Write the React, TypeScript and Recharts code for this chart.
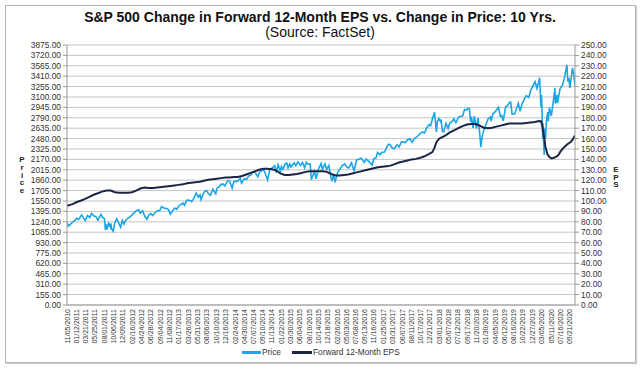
import React from 'react';
import { ComposedChart, Line, XAxis, YAxis, CartesianGrid } from 'recharts';

const xTickLabels: string[] = [
  '11/05/2010', '01/12/2011', '03/21/2011', '05/25/2011', '08/01/2011', '10/06/2011', '12/09/2011',
  '02/16/2012', '04/24/2012', '06/28/2012', '09/04/2012', '11/08/2012', '01/17/2013', '03/26/2013',
  '05/31/2013', '08/06/2013', '10/10/2013', '12/16/2013', '02/24/2014', '04/30/2014', '07/07/2014',
  '09/10/2014', '11/13/2014', '01/22/2015', '03/30/2015', '06/04/2015', '08/10/2015', '10/14/2015',
  '12/18/2015', '02/26/2016', '05/03/2016', '07/08/2016', '09/13/2016', '11/16/2016', '01/25/2017',
  '03/31/2017', '06/07/2017', '08/11/2017', '10/17/2017', '12/21/2017', '03/01/2018', '05/07/2018',
  '07/12/2018', '09/17/2018', '11/20/2018', '01/30/2019', '04/05/2019', '06/12/2019', '08/16/2019',
  '10/22/2019', '12/27/2019', '03/05/2020', '05/11/2020', '07/16/2020', '09/21/2020',
];

const priceTicks: number[] = [
  0, 155, 310, 465, 620, 775, 930, 1085, 1240, 1395, 1550, 1705, 1860, 2015, 2170, 2325, 2480,
  2635, 2790, 2945, 3100, 3255, 3410, 3565, 3720, 3875,
];
const epsTicks: number[] = [
  0, 10, 20, 30, 40, 50, 60, 70, 80, 90, 100, 110, 120, 130, 140, 150, 160, 170, 180, 190, 200,
  210, 220, 230, 240, 250,
];

const pricePoints: [string, number][] = [
  ['2010-11-05', 1225], ['2010-11-16', 1178], ['2010-12-01', 1206], ['2010-12-15', 1236], ['2010-12-31', 1258],
  ['2011-01-14', 1293], ['2011-01-28', 1276], ['2011-02-18', 1343], ['2011-03-01', 1306], ['2011-03-16', 1257],
  ['2011-04-01', 1332], ['2011-04-18', 1305], ['2011-04-29', 1364], ['2011-05-16', 1329], ['2011-06-01', 1315],
  ['2011-06-15', 1265], ['2011-07-07', 1353], ['2011-07-18', 1305], ['2011-08-01', 1287], ['2011-08-08', 1119],
  ['2011-08-15', 1204], ['2011-08-19', 1124], ['2011-08-31', 1219], ['2011-09-12', 1162], ['2011-09-16', 1216],
  ['2011-09-22', 1130], ['2011-10-03', 1099], ['2011-10-14', 1224], ['2011-10-27', 1285], ['2011-11-04', 1253],
  ['2011-11-25', 1159], ['2011-12-07', 1261], ['2011-12-19', 1206], ['2011-12-30', 1258],
  ['2012-01-13', 1289], ['2012-01-31', 1312], ['2012-02-15', 1344], ['2012-03-01', 1374], ['2012-03-16', 1404],
  ['2012-04-02', 1419], ['2012-04-13', 1370], ['2012-05-01', 1405], ['2012-05-15', 1330], ['2012-06-01', 1278],
  ['2012-06-15', 1342], ['2012-06-29', 1362], ['2012-07-12', 1334], ['2012-07-31', 1379], ['2012-08-15', 1405],
  ['2012-08-31', 1406], ['2012-09-14', 1465], ['2012-10-01', 1445], ['2012-10-15', 1440], ['2012-11-01', 1427],
  ['2012-11-15', 1353], ['2012-12-03', 1409], ['2012-12-18', 1446], ['2012-12-31', 1426],
  ['2013-01-15', 1472], ['2013-01-31', 1498], ['2013-02-15', 1519], ['2013-02-25', 1487], ['2013-03-14', 1563],
  ['2013-04-01', 1562], ['2013-04-18', 1541], ['2013-05-01', 1582], ['2013-05-21', 1669], ['2013-06-05', 1608],
  ['2013-06-17', 1640], ['2013-06-24', 1573], ['2013-07-15', 1682], ['2013-08-02', 1709], ['2013-08-15', 1661],
  ['2013-08-30', 1633], ['2013-09-18', 1725], ['2013-10-08', 1655], ['2013-10-18', 1745], ['2013-11-01', 1762],
  ['2013-11-15', 1798], ['2013-12-02', 1801], ['2013-12-13', 1775], ['2013-12-31', 1848],
  ['2014-01-15', 1848], ['2014-02-03', 1741], ['2014-02-14', 1838], ['2014-03-03', 1846], ['2014-03-14', 1841],
  ['2014-04-02', 1890], ['2014-04-11', 1815], ['2014-05-01', 1883], ['2014-05-15', 1870], ['2014-06-02', 1924],
  ['2014-06-16', 1937], ['2014-07-03', 1985], ['2014-07-16', 1981], ['2014-07-31', 1931], ['2014-08-07', 1910],
  ['2014-08-21', 1992], ['2014-09-18', 2011], ['2014-10-01', 1946], ['2014-10-15', 1862], ['2014-10-31', 2018],
  ['2014-11-14', 2039], ['2014-12-05', 2075], ['2014-12-16', 1973], ['2014-12-29', 2091],
  ['2015-01-15', 1992], ['2015-01-22', 2063], ['2015-02-02', 2021], ['2015-02-17', 2100], ['2015-03-02', 2117],
  ['2015-03-11', 2040], ['2015-03-23', 2104], ['2015-04-01', 2059], ['2015-04-24', 2117], ['2015-05-06', 2080],
  ['2015-05-21', 2131], ['2015-06-09', 2080], ['2015-06-23', 2124], ['2015-07-08', 2046], ['2015-07-20', 2128],
  ['2015-08-03', 2098], ['2015-08-17', 2102], ['2015-08-25', 1867], ['2015-09-16', 1996], ['2015-09-28', 1882],
  ['2015-10-15', 2023], ['2015-11-03', 2109], ['2015-11-13', 2023], ['2015-12-01', 2102], ['2015-12-14', 2022],
  ['2015-12-29', 2078],
  ['2016-01-15', 1880], ['2016-01-20', 1859], ['2016-02-01', 1940], ['2016-02-11', 1829], ['2016-03-01', 1978],
  ['2016-03-15', 2015], ['2016-04-01', 2073], ['2016-04-20', 2102], ['2016-05-06', 2057], ['2016-05-19', 2040],
  ['2016-06-08', 2119], ['2016-06-27', 2001], ['2016-07-15', 2162], ['2016-08-01', 2171], ['2016-08-15', 2190],
  ['2016-09-09', 2128], ['2016-09-22', 2177], ['2016-10-14', 2133], ['2016-11-04', 2085], ['2016-11-15', 2180],
  ['2016-12-01', 2191], ['2016-12-13', 2272], ['2016-12-30', 2239],
  ['2017-01-13', 2275], ['2017-02-01', 2280], ['2017-02-15', 2349], ['2017-03-01', 2396], ['2017-03-15', 2385],
  ['2017-03-27', 2342], ['2017-04-13', 2329], ['2017-05-01', 2388], ['2017-05-17', 2357], ['2017-06-01', 2430],
  ['2017-06-15', 2432], ['2017-06-29', 2419], ['2017-07-14', 2459], ['2017-08-01', 2476], ['2017-08-18', 2425],
  ['2017-09-01', 2476], ['2017-09-15', 2500], ['2017-10-02', 2529], ['2017-10-16', 2557], ['2017-11-01', 2579],
  ['2017-11-15', 2565], ['2017-12-01', 2642], ['2017-12-18', 2690], ['2017-12-29', 2674],
  ['2018-01-12', 2786], ['2018-01-26', 2873], ['2018-02-08', 2581], ['2018-02-15', 2731], ['2018-02-26', 2780],
  ['2018-03-08', 2738], ['2018-03-13', 2765], ['2018-03-23', 2588], ['2018-04-02', 2582], ['2018-04-18', 2708],
  ['2018-05-03', 2629], ['2018-05-15', 2711], ['2018-06-01', 2735], ['2018-06-13', 2776], ['2018-06-28', 2716],
  ['2018-07-16', 2798], ['2018-08-01', 2813], ['2018-08-15', 2818], ['2018-08-29', 2914], ['2018-09-14', 2905],
  ['2018-09-20', 2931], ['2018-10-03', 2926], ['2018-10-11', 2729], ['2018-10-17', 2809], ['2018-10-29', 2641],
  ['2018-11-07', 2814], ['2018-11-23', 2633], ['2018-12-03', 2790], ['2018-12-14', 2600], ['2018-12-24', 2351],
  ['2019-01-02', 2510], ['2019-01-15', 2610], ['2019-02-01', 2707], ['2019-02-15', 2776], ['2019-03-01', 2803],
  ['2019-03-08', 2743], ['2019-03-21', 2855], ['2019-04-01', 2867], ['2019-04-15', 2905], ['2019-04-30', 2946],
  ['2019-05-13', 2812], ['2019-05-23', 2822], ['2019-06-03', 2744], ['2019-06-20', 2954], ['2019-07-01', 2964],
  ['2019-07-15', 3014], ['2019-07-26', 3026], ['2019-08-05', 2844], ['2019-08-15', 2847], ['2019-08-23', 2847],
  ['2019-09-03', 2906], ['2019-09-19', 3006], ['2019-10-02', 2887], ['2019-10-15', 2996], ['2019-11-01', 3067],
  ['2019-11-15', 3120], ['2019-12-03', 3093], ['2019-12-16', 3191], ['2019-12-27', 3240],
  ['2020-01-17', 3330], ['2020-01-31', 3226], ['2020-02-19', 3386], ['2020-02-28', 2954], ['2020-03-04', 3130],
  ['2020-03-12', 2481], ['2020-03-13', 2711], ['2020-03-23', 2237], ['2020-03-26', 2630], ['2020-04-01', 2470],
  ['2020-04-08', 2750], ['2020-04-17', 2875], ['2020-04-21', 2737], ['2020-04-29', 2940], ['2020-05-13', 2820],
  ['2020-05-27', 3036], ['2020-06-08', 3232], ['2020-06-11', 3002], ['2020-06-23', 3131], ['2020-06-26', 3009],
  ['2020-07-15', 3227], ['2020-07-31', 3271], ['2020-08-14', 3373], ['2020-09-02', 3580], ['2020-09-08', 3332],
  ['2020-09-16', 3385], ['2020-09-23', 3237], ['2020-10-12', 3534], ['2020-10-21', 3435], ['2020-10-30', 3270],
];

const epsPoints: [string, number][] = [
  ['2010-11-05', 95.5], ['2010-12-15', 97], ['2011-01-15', 99], ['2011-02-15', 100.5], ['2011-03-15', 102],
  ['2011-04-15', 104], ['2011-05-15', 106], ['2011-06-15', 107.5], ['2011-07-15', 109], ['2011-08-15', 110],
  ['2011-09-15', 110], ['2011-10-15', 108.5], ['2011-11-15', 108], ['2011-12-15', 108], ['2012-01-15', 108],
  ['2012-02-15', 108.5], ['2012-03-15', 110], ['2012-04-15', 112], ['2012-05-15', 113], ['2012-06-15', 112.5],
  ['2012-07-15', 112.5], ['2012-08-15', 113], ['2012-09-15', 113.5], ['2012-10-15', 114], ['2012-11-15', 114.5],
  ['2012-12-15', 115], ['2013-01-15', 115.5], ['2013-02-15', 116], ['2013-03-15', 117], ['2013-04-15', 117.5],
  ['2013-05-15', 118], ['2013-06-15', 118.5], ['2013-07-15', 119.5], ['2013-08-15', 120.5], ['2013-09-15', 121],
  ['2013-10-15', 121.5], ['2013-11-15', 122], ['2013-12-15', 122.5], ['2014-01-15', 122.5], ['2014-02-15', 123],
  ['2014-03-15', 123], ['2014-04-15', 124], ['2014-05-15', 125.5], ['2014-06-15', 127], ['2014-07-15', 128.5],
  ['2014-08-15', 130], ['2014-09-15', 131], ['2014-10-15', 131], ['2014-11-15', 130.5], ['2014-12-15', 129.5],
  ['2015-01-15', 126.5], ['2015-02-15', 125], ['2015-03-15', 125], ['2015-04-15', 125.5], ['2015-05-15', 126],
  ['2015-06-15', 127], ['2015-07-15', 128], ['2015-08-15', 128.5], ['2015-09-15', 128.5], ['2015-10-15', 128.5],
  ['2015-11-15', 128.5], ['2015-12-15', 128], ['2016-01-15', 126], ['2016-02-15', 124.5], ['2016-03-15', 124.5],
  ['2016-04-15', 125], ['2016-05-15', 125.5], ['2016-06-15', 126.5], ['2016-07-15', 127.5], ['2016-08-15', 128.5],
  ['2016-09-15', 129.5], ['2016-10-15', 130.5], ['2016-11-15', 131.5], ['2016-12-15', 132.5], ['2017-01-15', 133],
  ['2017-02-15', 133.5], ['2017-03-15', 134], ['2017-04-15', 135.5], ['2017-05-15', 137], ['2017-06-15', 138],
  ['2017-07-15', 139], ['2017-08-15', 140], ['2017-09-15', 140.5], ['2017-10-15', 141.5], ['2017-11-15', 143],
  ['2017-12-15', 145], ['2018-01-10', 147], ['2018-01-25', 151], ['2018-02-10', 157], ['2018-03-01', 160],
  ['2018-03-15', 161], ['2018-04-15', 163], ['2018-05-15', 166], ['2018-06-15', 168], ['2018-07-15', 170],
  ['2018-08-15', 172], ['2018-09-15', 173.5], ['2018-10-15', 174], ['2018-11-15', 174], ['2018-12-15', 172.5],
  ['2019-01-15', 170.5], ['2019-02-15', 170], ['2019-03-15', 170.5], ['2019-04-15', 171.5], ['2019-05-15', 172.5],
  ['2019-06-15', 173.5], ['2019-07-15', 174.5], ['2019-08-15', 174.5], ['2019-09-15', 174.5], ['2019-10-15', 174.5],
  ['2019-11-15', 175], ['2019-12-15', 175.5], ['2020-01-15', 176], ['2020-02-15', 177], ['2020-03-01', 176.5],
  ['2020-03-10', 172], ['2020-03-20', 163], ['2020-04-01', 152], ['2020-04-15', 145], ['2020-05-01', 142],
  ['2020-05-15', 141], ['2020-06-01', 141.5], ['2020-06-15', 142.5], ['2020-07-01', 144], ['2020-07-15', 147],
  ['2020-08-01', 150], ['2020-08-15', 152], ['2020-09-01', 154], ['2020-09-15', 155.5], ['2020-10-01', 157],
  ['2020-10-15', 159.5], ['2020-10-30', 163],
];

const PRICE_COLOR = '#1aa6e6';
const EPS_COLOR = '#1b2444';
const FONT = '"Liberation Sans", Arial, Helvetica, sans-serif';

const isoToMs = (s: string) => Date.parse(s + 'T00:00:00Z');
const usToMs = (s: string) => {
  const [m, d, y] = s.split('/').map(Number);
  return Date.UTC(y, m - 1, d);
};
const msToUs = (t: number) => {
  const d = new Date(t);
  const mm = String(d.getUTCMonth() + 1).padStart(2, '0');
  const dd = String(d.getUTCDate()).padStart(2, '0');
  return `${mm}/${dd}/${d.getUTCFullYear()}`;
};

type Row = { t: number; price?: number; eps?: number };
const rowMap = new Map<number, Row>();
pricePoints.forEach(([d, v]) => {
  const t = isoToMs(d);
  const r = rowMap.get(t) || { t };
  r.price = v;
  rowMap.set(t, r);
});
epsPoints.forEach(([d, v]) => {
  const t = isoToMs(d);
  const r = rowMap.get(t) || { t };
  r.eps = v;
  rowMap.set(t, r);
});
const data: Row[] = Array.from(rowMap.values()).sort((a, b) => a.t - b.t);

const xTicks = xTickLabels.map(usToMs);
const xDomain: [number, number] = [isoToMs(pricePoints[0][0]), isoToMs(pricePoints[pricePoints.length - 1][0])];

const XTick = (props: any) => {
  const { x, y, payload } = props;
  return (
    <text
      x={x}
      y={y}
      transform={`rotate(-90 ${x} ${y})`}
      textAnchor="end"
      dominantBaseline="central"
      fontSize={7}
      fontFamily={FONT}
      fill="#333"
    >
      {msToUs(payload.value)}
    </text>
  );
};

const tickStyle = { fontSize: 8.4, fill: '#333', fontFamily: FONT };

export default function App() {
  return (
    <div style={{ position: 'absolute', left: 0, top: 0, width: 640, height: 370, background: '#fff', fontFamily: FONT }}>
      <div
        style={{
          position: 'absolute',
          left: 5,
          top: 5,
          width: 629,
          height: 356,
          border: '1px solid #b4b4b4',
          boxShadow: '1px 1px 1px #d0d0d0',
        }}
      />
      <div style={{ position: 'absolute', left: 0, top: 9, width: 640, textAlign: 'center', fontSize: 14, fontWeight: 'bold', lineHeight: '16px', color: '#111' }}>
        S&amp;P 500 Change in Forward 12-Month EPS vs. Change in Price: 10 Yrs.
      </div>
      <div style={{ position: 'absolute', left: 0, top: 24, width: 640, textAlign: 'center', fontSize: 14, lineHeight: '16px', color: '#111' }}>
        (Source: FactSet)
      </div>
      <div style={{ position: 'absolute', left: 17, top: 156, width: 10, textAlign: 'center', fontSize: 8, fontWeight: 'bold', lineHeight: '7.8px', color: '#222' }}>
        {'Price'.split('').map((c, i) => (
          <div key={i}>{c}</div>
        ))}
      </div>
      <div style={{ position: 'absolute', left: 611, top: 166, width: 10, textAlign: 'center', fontSize: 8, fontWeight: 'bold', lineHeight: '7.5px', color: '#222' }}>
        {'EPS'.split('').map((c, i) => (
          <div key={i}>{c}</div>
        ))}
      </div>
      <div style={{ position: 'absolute', left: 0, top: 0 }}>
        <ComposedChart width={640} height={370} data={data} margin={{ top: 45, right: 0, bottom: 15, left: 0 }}>
          <CartesianGrid yAxisId="left" vertical={false} stroke="#c4c4c4" />
          <XAxis
            dataKey="t"
            type="number"
            domain={xDomain}
            allowDataOverflow
            ticks={xTicks}
            interval={0}
            tick={<XTick />}
            tickLine={false}
            tickSize={0}
            tickMargin={4}
            height={50}
            axisLine={{ stroke: '#999' }}
          />
          <YAxis
            yAxisId="left"
            orientation="left"
            width={67}
            domain={[0, 3875]}
            ticks={priceTicks}
            interval={0}
            tickFormatter={(v: number) => v.toFixed(2)}
            tick={tickStyle}
            tickSize={4}
            tickMargin={2}
            axisLine={{ stroke: '#999' }}
            tickLine={{ stroke: '#999' }}
          />
          <YAxis
            yAxisId="right"
            orientation="right"
            width={65}
            domain={[0, 250]}
            ticks={epsTicks}
            interval={0}
            tickFormatter={(v: number) => v.toFixed(2)}
            tick={tickStyle}
            tickSize={4}
            tickMargin={2}
            axisLine={{ stroke: '#999' }}
            tickLine={{ stroke: '#999' }}
          />
          <Line
            yAxisId="left"
            dataKey="price"
            name="Price"
            stroke={PRICE_COLOR}
            strokeWidth={1.6}
            dot={false}
            connectNulls
            isAnimationActive={false}
          />
          <Line
            yAxisId="right"
            dataKey="eps"
            name="Forward 12-Month EPS"
            stroke={EPS_COLOR}
            strokeWidth={2}
            dot={false}
            connectNulls
            isAnimationActive={false}
          />
        </ComposedChart>
      </div>
      <div style={{ position: 'absolute', left: 242, top: 351, width: 19, height: 2.5, background: PRICE_COLOR }} />
      <div style={{ position: 'absolute', left: 262, top: 347, fontSize: 8.3, lineHeight: '10px', color: '#333' }}>Price</div>
      <div style={{ position: 'absolute', left: 292, top: 351, width: 20, height: 2.5, background: EPS_COLOR }} />
      <div style={{ position: 'absolute', left: 313, top: 347, fontSize: 8.3, lineHeight: '10px', color: '#333' }}>Forward 12-Month EPS</div>
    </div>
  );
}
